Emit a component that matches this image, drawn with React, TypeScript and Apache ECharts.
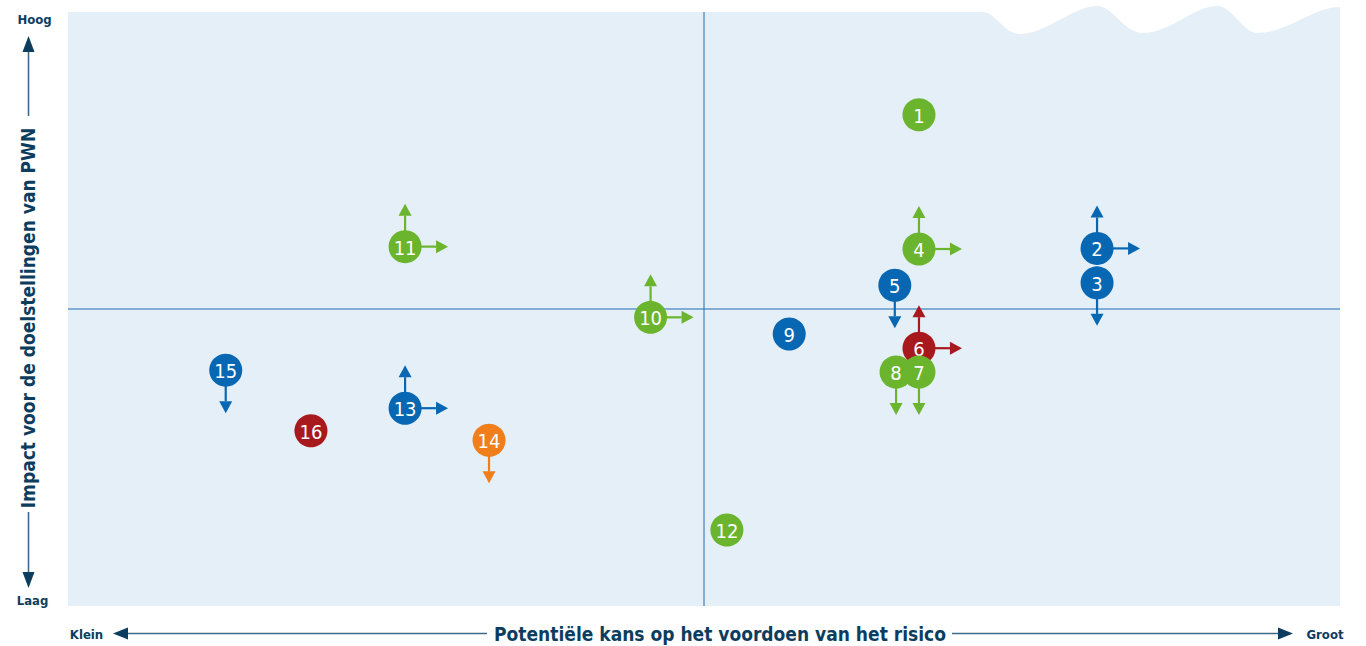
import React, { useEffect, useRef } from "react";
import * as echarts from "echarts";

// Risk ids (7 drawn after 8 so that it lies on top, as in the reference)
const ids = ["1", "2", "3", "4", "5", "6", "8", "7", "9", "10", "11", "12", "13", "14", "15", "16"];
// Potential likelihood (x, 0..100) and impact (y, 0..100)
const likelihood = [66.9, 80.9, 80.9, 66.9, 65.0, 66.9, 65.1, 66.9, 56.7, 45.8, 26.5, 51.8, 26.5, 33.1, 12.4, 19.1];
const impact = [82.7, 60.2, 54.4, 60.1, 54.0, 43.4, 39.4, 39.4, 45.8, 48.6, 60.5, 12.8, 33.3, 27.9, 39.7, 29.5];
const category = ["green", "blue", "blue", "green", "blue", "red", "green", "green", "blue", "green", "green", "green", "blue", "orange", "blue", "red"];
const trendUp = [false, true, false, true, false, true, false, false, false, true, true, false, true, false, false, false];
const trendDown = [false, false, true, false, true, false, true, true, false, false, false, false, false, true, true, false];
const trendRight = [false, true, false, true, false, true, false, false, false, true, true, false, true, false, false, false];

const axisMid = 50;
const axisMin = 0;
const axisMax = 100;

const yTitle = "Impact voor de doelstellingen van PWN";
const xTitle = "Potentiële kans op het voordoen van het risico";
const yHigh = "Hoog";
const yLow = "Laag";
const xLow = "Klein";
const xHigh = "Groot";

const COLORS: Record<string, string> = {
  blue: "#0767b2",
  green: "#6ab42e",
  red: "#a8191d",
  orange: "#ef7e1b",
};

const FONT = "'DejaVu Sans Condensed', 'Liberation Sans Narrow', 'Liberation Sans', sans-serif";
const NAVY = "#0c3d5e";
const ARROW_LINE = "#3d6b88";

const BG_PATH =
  "M68,12 L982,12 C996,12 1004,34 1020,34 C1046,34 1074,6 1097,6 C1113,6 1124,33 1143,33 C1170,33 1194,6 1217,6 C1233,6 1242,33 1258,33 C1286,33 1314,7 1340,7 L1340,606 L68,606 Z";

let registered = false;

export default function App() {
  const ref = useRef<HTMLDivElement>(null);

  useEffect(() => {
    if (!ref.current) return;
    if (!registered) {
      echarts.graphic.registerShape("bgwave", echarts.graphic.extendPath(BG_PATH, {}) as any);
      registered = true;
    }
    const chart = echarts.init(ref.current, undefined, { renderer: "svg" });

    const data = ids.map((id, i) => [likelihood[i], impact[i]]);

    const arrowLen = 43;
    const headLen = 12;
    const headHalf = 6.5;

    const option: any = {
      animation: false,
      backgroundColor: "#ffffff",
      grid: { left: 68, right: 26, top: 12, bottom: 40 },
      xAxis: { type: "value", min: axisMin, max: axisMax, show: false },
      yAxis: { type: "value", min: axisMin, max: axisMax, show: false },
      graphic: [
        { type: "bgwave", x: 0, y: 0, z: -10, silent: true, style: { fill: "#e4eff7" } },
        // y axis title and arrows
        {
          type: "text",
          x: 28,
          y: 318,
          rotation: Math.PI / 2,
          style: {
            text: yTitle,
            fill: NAVY,
            font: `bold 19px ${FONT}`,
            align: "center",
            verticalAlign: "middle",
          },
        },
        { type: "line", shape: { x1: 28.5, y1: 50, x2: 28.5, y2: 116 }, style: { stroke: ARROW_LINE, lineWidth: 1.6 } },
        { type: "polygon", shape: { points: [[28.5, 36], [22.5, 52], [34.5, 52]] }, style: { fill: NAVY } },
        { type: "line", shape: { x1: 28.5, y1: 512, x2: 28.5, y2: 574 }, style: { stroke: ARROW_LINE, lineWidth: 1.6 } },
        { type: "polygon", shape: { points: [[28.5, 588], [22.5, 572], [34.5, 572]] }, style: { fill: NAVY } },
        {
          type: "text", x: 34.5, y: 19,
          style: { text: yHigh, fill: NAVY, font: `bold 13px ${FONT}`, align: "center", verticalAlign: "middle" },
        },
        {
          type: "text", x: 32.5, y: 600,
          style: { text: yLow, fill: NAVY, font: `bold 13px ${FONT}`, align: "center", verticalAlign: "middle" },
        },
        // x axis title and arrows
        {
          type: "text", x: 720, y: 634,
          style: { text: xTitle, fill: NAVY, font: `bold 19px ${FONT}`, align: "center", verticalAlign: "middle" },
        },
        { type: "line", shape: { x1: 126, y1: 633.5, x2: 487, y2: 633.5 }, style: { stroke: ARROW_LINE, lineWidth: 1.6 } },
        { type: "polygon", shape: { points: [[113, 633.5], [128, 627.5], [128, 639.5]] }, style: { fill: NAVY } },
        { type: "line", shape: { x1: 952, y1: 633.5, x2: 1279, y2: 633.5 }, style: { stroke: ARROW_LINE, lineWidth: 1.6 } },
        { type: "polygon", shape: { points: [[1293, 633.5], [1278, 627.5], [1278, 639.5]] }, style: { fill: NAVY } },
        {
          type: "text", x: 86.5, y: 634,
          style: { text: xLow, fill: NAVY, font: `bold 13px ${FONT}`, align: "center", verticalAlign: "middle" },
        },
        {
          type: "text", x: 1325, y: 634,
          style: { text: xHigh, fill: NAVY, font: `bold 13px ${FONT}`, align: "center", verticalAlign: "middle" },
        },
      ],
      series: [
        {
          type: "custom",
          z: 1,
          silent: true,
          data: [[axisMid, axisMid]],
          renderItem: (params: any, api: any) => {
            const top = api.coord([axisMid, axisMax]);
            const bottom = api.coord([axisMid, axisMin]);
            const left = api.coord([axisMin, axisMid]);
            const right = api.coord([axisMax, axisMid]);
            const style = { stroke: "#1f6db4", lineWidth: 1 };
            return {
              type: "group",
              children: [
                { type: "line", shape: { x1: top[0], y1: top[1], x2: bottom[0], y2: bottom[1] }, style },
                { type: "line", shape: { x1: left[0], y1: left[1], x2: right[0], y2: right[1] }, style },
              ],
            };
          },
        },
        {
          type: "custom",
          z: 3,
          silent: true,
          data,
          renderItem: (params: any, api: any) => {
            const i = params.dataIndex;
            const pt = api.coord([api.value(0), api.value(1)]);
            const cx = pt[0];
            const cy = pt[1];
            const color = COLORS[category[i]];
            const children: any[] = [];
            const ls = { stroke: color, lineWidth: 2.2 };
            if (trendUp[i]) {
              children.push({ type: "line", z2: 1, shape: { x1: cx, y1: cy, x2: cx, y2: cy - arrowLen + headLen }, style: ls });
              children.push({
                type: "polygon", z2: 1,
                shape: { points: [[cx, cy - arrowLen], [cx - headHalf, cy - arrowLen + headLen], [cx + headHalf, cy - arrowLen + headLen]] },
                style: { fill: color },
              });
            }
            if (trendDown[i]) {
              children.push({ type: "line", z2: 1, shape: { x1: cx, y1: cy, x2: cx, y2: cy + arrowLen - headLen }, style: ls });
              children.push({
                type: "polygon", z2: 1,
                shape: { points: [[cx, cy + arrowLen], [cx - headHalf, cy + arrowLen - headLen], [cx + headHalf, cy + arrowLen - headLen]] },
                style: { fill: color },
              });
            }
            if (trendRight[i]) {
              children.push({ type: "line", z2: 1, shape: { x1: cx, y1: cy, x2: cx + arrowLen - headLen, y2: cy }, style: ls });
              children.push({
                type: "polygon", z2: 1,
                shape: { points: [[cx + arrowLen, cy], [cx + arrowLen - headLen, cy - headHalf], [cx + arrowLen - headLen, cy + headHalf]] },
                style: { fill: color },
              });
            }
            children.push({ type: "circle", z2: 10 + 2 * i, shape: { cx, cy, r: 16.5 }, style: { fill: color } });
            children.push({
              type: "text",
              z2: 11 + 2 * i,
              style: {
                text: ids[i],
                x: cx,
                y: cy + 1,
                align: "center",
                verticalAlign: "middle",
                fill: "#ffffff",
                font: `20px ${FONT}`,
              },
            });
            return { type: "group", children };
          },
        },
      ],
    };

    chart.setOption(option);
    return () => chart.dispose();
  }, []);

  return (
    <div
      ref={ref}
      style={{ position: "fixed", left: 0, top: 0, width: 1366, height: 646, background: "#fff" }}
    />
  );
}
